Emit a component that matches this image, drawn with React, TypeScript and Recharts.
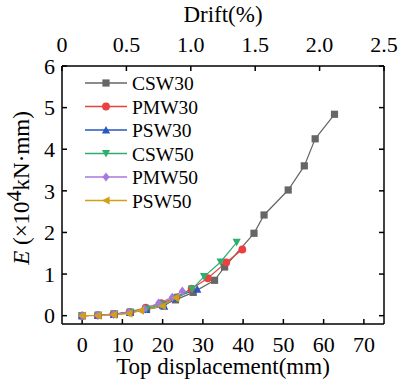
import { LineChart, Line, XAxis, YAxis, Legend } from 'recharts';

// displacement (mm) / E (x10^4 kN·mm)
const csw30X = [0, 4, 8, 12, 16, 20, 23.2, 27.6, 32.9, 35.4, 42.7, 45.2, 51.2, 55.2, 57.9, 62.7];
const csw30Y = [0, 0.01, 0.04, 0.08, 0.15, 0.25, 0.38, 0.56, 0.85, 1.17, 1.98, 2.42, 3.02, 3.6, 4.25, 4.84];
const pmw30X = [0, 3.9, 7.8, 11.8, 15.8, 19.6, 23.4, 27.2, 31.2, 35.8, 39.8];
const pmw30Y = [0, 0.01, 0.04, 0.09, 0.19, 0.3, 0.44, 0.65, 0.9, 1.28, 1.59];
const psw30X = [0, 3.9, 7.9, 11.9, 15.9, 20.4, 23, 28.6];
const psw30Y = [0, 0.01, 0.03, 0.08, 0.15, 0.23, 0.43, 0.64];
const csw50X = [0, 4, 8, 12, 16, 19.5, 23.5, 27.3, 30.3, 34.4, 38.4];
const csw50Y = [0, 0.01, 0.03, 0.08, 0.16, 0.27, 0.42, 0.64, 0.94, 1.29, 1.76];
const pmw50X = [0, 3.9, 7.8, 11.7, 15.4, 19, 22.4, 24.9];
const pmw50Y = [0, 0.01, 0.03, 0.08, 0.16, 0.3, 0.44, 0.59];
const psw50X = [0, 3.9, 7.8, 11.6, 14.5, 19.9, 23.2];
const psw50Y = [0, 0, 0.02, 0.05, 0.12, 0.23, 0.43];

const dispTicks = [0, 10, 20, 30, 40, 50, 60, 70];
const driftTicks = [0, 0.5, 1.0, 1.5, 2.0, 2.5];
const eTicks = [0, 1, 2, 3, 4, 5, 6];

const serif = '"Liberation Serif", "Times New Roman", serif';

const zip = (xs: number[], ys: number[]) => xs.map((x, i) => ({ x, y: ys[i] }));

type Marker = 'square' | 'circle' | 'up' | 'down' | 'diamond' | 'left';

function drawMarker(kind: Marker, cx: number, cy: number, color: string, key?: string | number) {
  const s = 3.6;
  switch (kind) {
    case 'square':
      return <rect key={key} x={cx - s} y={cy - s} width={2 * s} height={2 * s} fill={color} />;
    case 'circle':
      return <circle key={key} cx={cx} cy={cy} r={s + 0.3} fill={color} />;
    case 'up':
      return <polygon key={key} points={`${cx},${cy - s - 0.5} ${cx - s - 0.5},${cy + s} ${cx + s + 0.5},${cy + s}`} fill={color} />;
    case 'down':
      return <polygon key={key} points={`${cx},${cy + s + 0.5} ${cx - s - 0.5},${cy - s} ${cx + s + 0.5},${cy - s}`} fill={color} />;
    case 'diamond':
      return <polygon key={key} points={`${cx},${cy - s - 1} ${cx + s},${cy} ${cx},${cy + s + 1} ${cx - s},${cy}`} fill={color} />;
    case 'left':
      return <polygon key={key} points={`${cx - s - 0.5},${cy} ${cx + s},${cy - s - 0.5} ${cx + s},${cy + s + 0.5}`} fill={color} />;
  }
}

const series: { name: string; color: string; marker: Marker; data: { x: number; y: number }[] }[] = [
  { name: 'CSW30', color: '#666666', marker: 'square', data: zip(csw30X, csw30Y) },
  { name: 'PMW30', color: '#e8413f', marker: 'circle', data: zip(pmw30X, pmw30Y) },
  { name: 'PSW30', color: '#2757c2', marker: 'up', data: zip(psw30X, psw30Y) },
  { name: 'CSW50', color: '#2eb06c', marker: 'down', data: zip(csw50X, csw50Y) },
  { name: 'PMW50', color: '#a679dc', marker: 'diamond', data: zip(pmw50X, pmw50Y) },
  { name: 'PSW50', color: '#d19f19', marker: 'left', data: zip(psw50X, psw50Y) },
];

const tickStyle = { fill: '#000', fontSize: 22, fontFamily: serif };

function LegendBox() {
  return (
    <svg width={120} height={145} style={{ display: 'block' }}>
      {series.map((s, i) => {
        const y = 11 + i * 23.5;
        return (
          <g key={s.name}>
            <line x1={0} x2={42} y1={y} y2={y} stroke={s.color} strokeWidth={1.3} />
            {drawMarker(s.marker, 21, y, s.color)}
            <text x={47} y={y + 7} fontSize={19.5} fontFamily={serif} fill="#000">{s.name}</text>
          </g>
        );
      })}
    </svg>
  );
}

function YTitle() {
  return (
    <text x={29} y={188} transform="rotate(-90, 29, 188)" textAnchor="middle" fontSize={23} fontFamily={serif} fill="#000">
      <tspan fontStyle="italic">E</tspan>
      <tspan> (×10</tspan>
      <tspan dy={-8} fontSize={22}>4</tspan>
      <tspan dy={8}>kN·mm)</tspan>
    </text>
  );
}

export default function App() {
  return (
    <div style={{ position: 'absolute', left: 0, top: 0, fontFamily: serif }}>
      <LineChart width={398} height={390} margin={{ top: 30, right: 10, bottom: 32, left: 20 }}>
        <XAxis
          xAxisId="bottom"
          dataKey="x"
          type="number"
          domain={[-5, 75]}
          ticks={dispTicks}
          interval={0}
          tickSize={-5}
          tickMargin={17}
          height={34}
          stroke="#000"
          strokeWidth={1.5}
          tick={tickStyle}
          label={{ value: 'Top displacement(mm)', position: 'bottom', offset: 0, fontSize: 23, fontFamily: serif, fill: '#000' }}
        />
        <XAxis
          xAxisId="top"
          orientation="top"
          dataKey="x"
          type="number"
          domain={[0, 2.5]}
          allowDataOverflow
          ticks={driftTicks}
          interval={0}
          tickFormatter={(v: number) => (v === 0 ? '0' : v.toFixed(1))}
          tickSize={-5}
          tickMargin={19}
          height={36}
          stroke="#000"
          strokeWidth={1.5}
          tick={tickStyle}
          label={{ value: 'Drift(%)', position: 'top', offset: 8, fontSize: 23, fontFamily: serif, fill: '#000' }}
        />
        <YAxis
          yAxisId="left"
          type="number"
          domain={[-0.2, 6]}
          ticks={eTicks}
          interval={0}
          tickSize={-5}
          tickMargin={12}
          width={42}
          stroke="#000"
          strokeWidth={1.5}
          tick={tickStyle}
          label={<YTitle />}
        />
        <YAxis
          yAxisId="right"
          orientation="right"
          type="number"
          domain={[-0.2, 6]}
          allowDataOverflow
          ticks={eTicks}
          interval={0}
          tickSize={-5}
          tickFormatter={() => ''}
          width={4}
          stroke="#000"
          strokeWidth={1.5}
        />
        <Legend
          layout="horizontal"
          verticalAlign="middle"
          align="center"
          content={() => <LegendBox />}
          wrapperStyle={{ left: 85, top: 72, width: 120, height: 145 }}
        />
        {series.map((s) => (
          <Line
            key={s.name}
            xAxisId="bottom"
            yAxisId="left"
            data={s.data}
            dataKey="y"
            name={s.name}
            stroke={s.color}
            strokeWidth={1.2}
            isAnimationActive={false}
            dot={(p: any) => drawMarker(s.marker, p.cx, p.cy, s.color, `${s.name}-${p.index}`)}
            activeDot={false}
          />
        ))}
      </LineChart>
    </div>
  );
}
